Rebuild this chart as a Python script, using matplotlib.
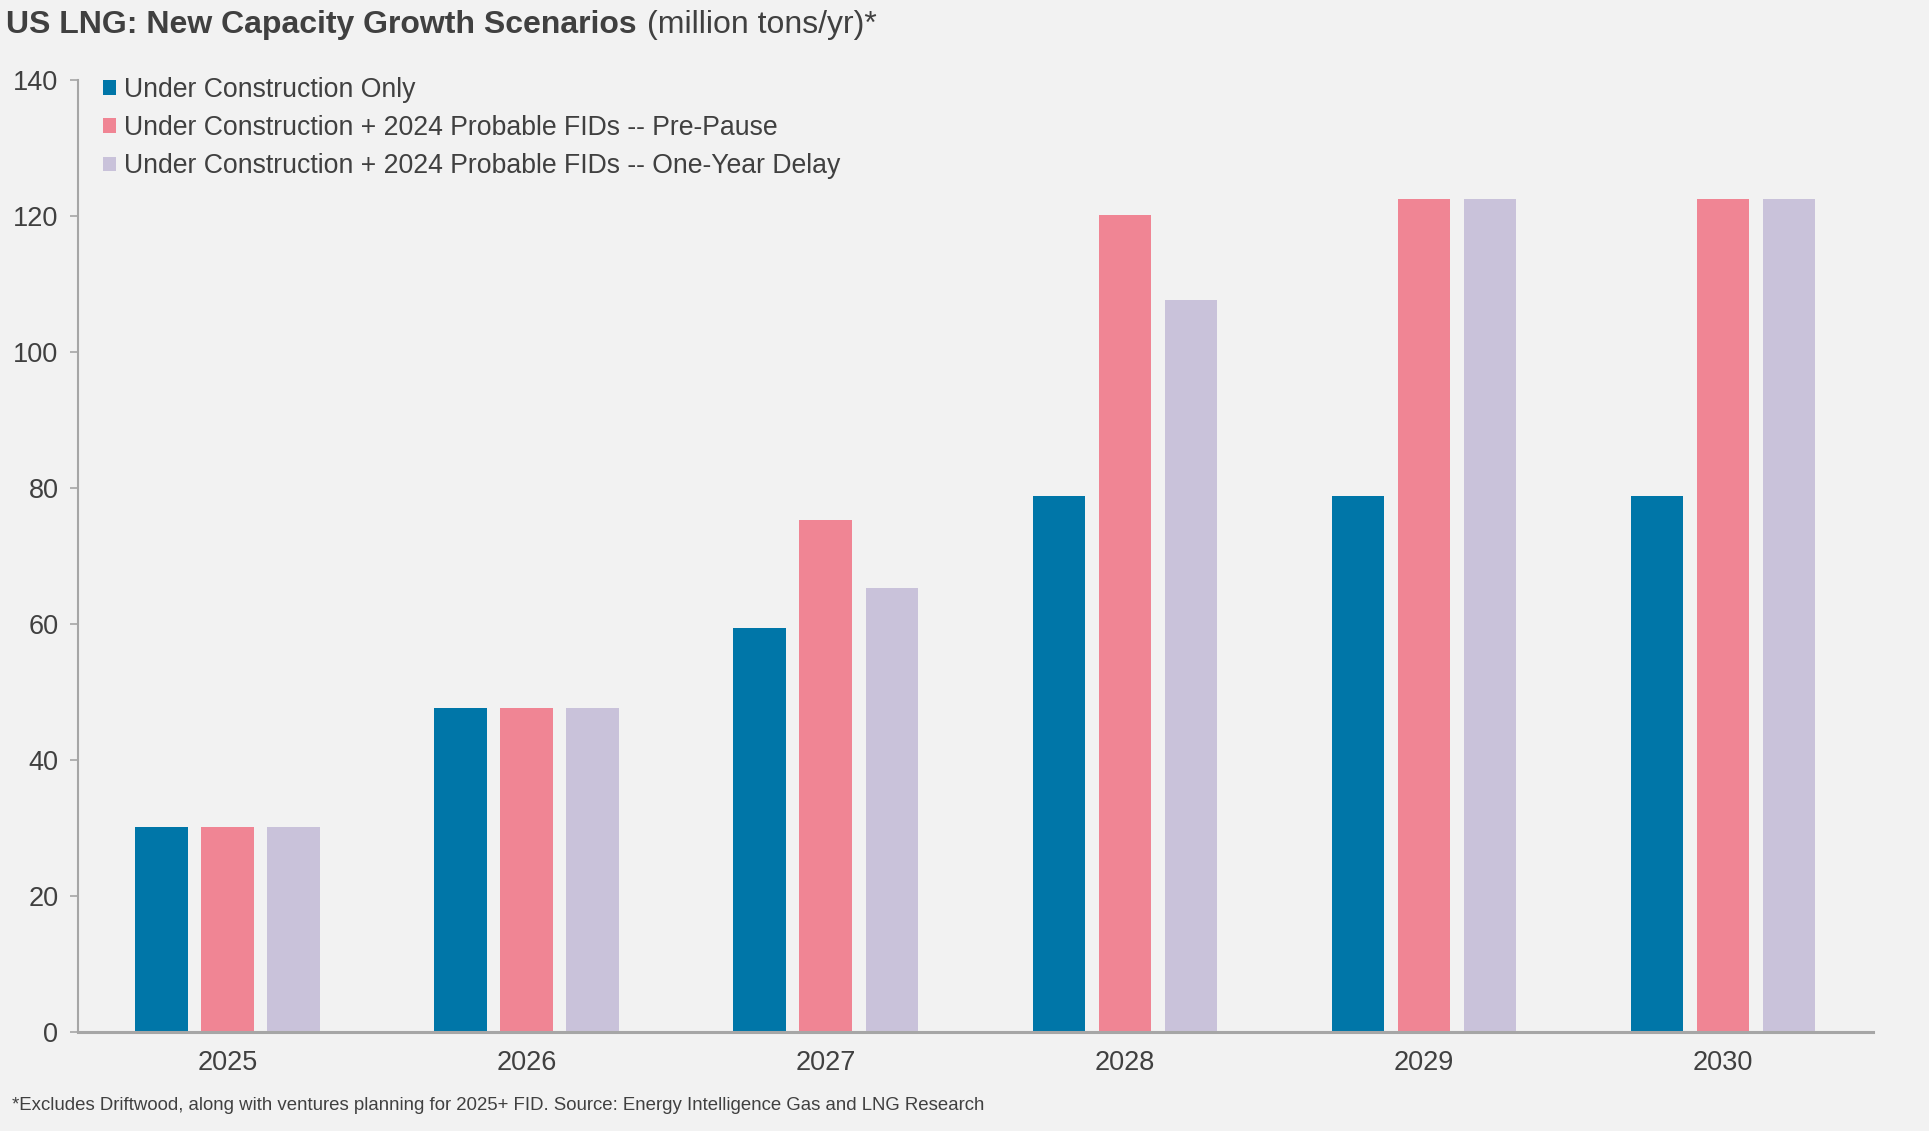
import numpy as np
import matplotlib.pyplot as plt
from matplotlib.patches import Patch

plt.rcParams['font.family'] = ['Liberation Sans', 'DejaVu Sans']

years = ['2025', '2026', '2027', '2028', '2029', '2030']
under_construction = [30.1, 47.6, 59.4, 78.8, 78.8, 78.8]
pre_pause = [30.1, 47.6, 75.3, 120.1, 122.5, 122.5]
one_year_delay = [30.1, 47.6, 65.3, 107.6, 122.5, 122.5]

labels = ['Under Construction Only',
          'Under Construction + 2024 Probable FIDs -- Pre-Pause',
          'Under Construction + 2024 Probable FIDs -- One-Year Delay']
colors = ['#0076A8', '#F08594', '#C9C2DA']

bg = '#F2F2F2'
txt = '#404040'
grey = '#A6A6A6'

fig = plt.figure(figsize=(19.29, 11.31), dpi=100, facecolor=bg)
ax = fig.add_axes([0.0404, 0.0878, 0.9304, 0.8417])
ax.set_facecolor(bg)

x = np.arange(len(years))
w = 0.1755
step = 0.2207
for i, (vals, c) in enumerate(zip([under_construction, pre_pause, one_year_delay], colors)):
    ax.bar(x + (i - 1) * step, vals, width=w, color=c, label=labels[i])

ax.set_xlim(-0.5, 5.5)
ax.set_ylim(0, 140)
ax.set_yticks(range(0, 141, 20))
ax.set_xticks(x)
ax.set_xticklabels(years)

for s in ['top', 'right']:
    ax.spines[s].set_visible(False)
ax.spines['left'].set_color(grey)
ax.spines['left'].set_linewidth(1.5)
ax.spines['bottom'].set_color(grey)
ax.spines['bottom'].set_linewidth(2.2)
ax.tick_params(axis='y', length=5.5, width=1.2, color=grey, pad=8.5,
               labelsize=19.5, labelcolor=txt)
ax.tick_params(axis='x', length=0, pad=13.5, labelsize=19.5, labelcolor=txt)

handles = [Patch(facecolor=c, edgecolor='none') for c in colors]
ax.legend(handles, labels, loc='upper left', bbox_to_anchor=(0.0534, 0.932),
          bbox_transform=fig.transFigure, frameon=False, fontsize=19.2,
          handlelength=0.48, handleheight=0.48, handletextpad=0.3,
          labelspacing=0.46, borderpad=0, borderaxespad=0, labelcolor=txt)

t1 = fig.text(0.003, 0.971, 'US LNG: New Capacity Growth Scenarios', fontsize=23,
              fontweight='bold', color=txt, va='baseline', ha='left')
fig.canvas.draw()
bb = t1.get_window_extent()
fig.text(bb.x1 / fig.bbox.width + 0.0055, 0.971, '(million tons/yr)*', fontsize=23,
         color=txt, va='baseline', ha='left')

fig.text(0.006, 0.0225, '*Excludes Driftwood, along with ventures planning for 2025+ FID. '
         'Source: Energy Intelligence Gas and LNG Research',
         fontsize=13.4, color=txt, va='center', ha='left')

fig.savefig('out.png', dpi=100, facecolor=bg)
